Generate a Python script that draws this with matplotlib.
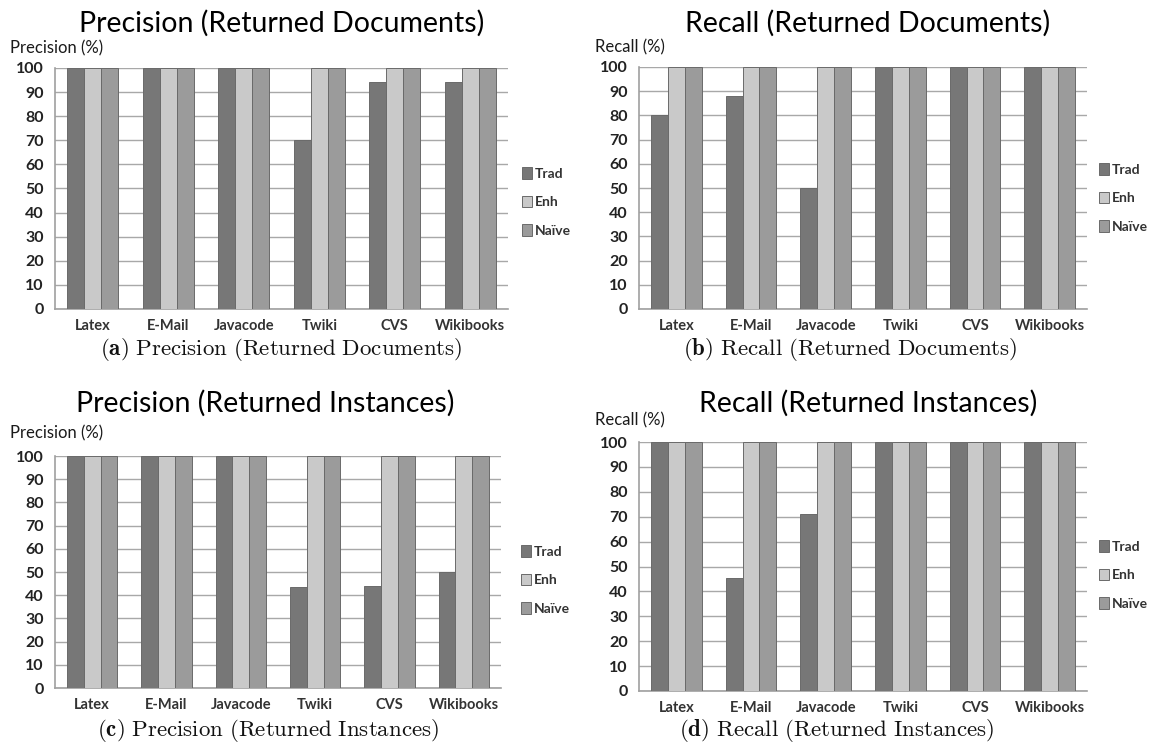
import numpy as np
import matplotlib
matplotlib.use('Agg')
import matplotlib.pyplot as plt
from matplotlib.patches import Patch

plt.rcParams['font.family'] = ['Lato', 'DejaVu Sans']
plt.rcParams['mathtext.fontset'] = 'cm'

categories = ['Latex', 'E-Mail', 'Javacode', 'Twiki', 'CVS', 'Wikibooks']
series_names = ['Trad', 'Enh', 'Naïve']

# values (%)
prec_docs_trad = [100, 100, 100, 70, 94, 94]
prec_docs_enh = [100, 100, 100, 100, 100, 100]
prec_docs_naive = [100, 100, 100, 100, 100, 100]

recall_docs_trad = [80, 88, 50, 100, 100, 100]
recall_docs_enh = [100, 100, 100, 100, 100, 100]
recall_docs_naive = [100, 100, 100, 100, 100, 100]

prec_inst_trad = [100, 100, 100, 43.5, 44, 50]
prec_inst_enh = [100, 100, 100, 100, 100, 100]
prec_inst_naive = [100, 100, 100, 100, 100, 100]

recall_inst_trad = [100, 45.5, 71, 100, 100, 100]
recall_inst_enh = [100, 100, 100, 100, 100, 100]
recall_inst_naive = [100, 100, 100, 100, 100, 100]

colors = ['#777777', '#c9c9c9', '#9b9b9b']
edge = '#6a6a6a'
W, H = 1151, 750


def px_rect(left, top, right, bottom):
    return [left / W, 1 - bottom / H, (right - left) / W, (bottom - top) / H]


def fx(x):
    return x / W


def fy(y):
    return 1 - y / H


def draw_panel(fig, rect, series, title, title_xy, ylabel, ylabel_xy,
               legend_xy, caption, caption_xy):
    ax = fig.add_axes(px_rect(*rect))
    x = np.arange(len(categories))
    width = 0.225
    for i, vals in enumerate(series):
        ax.bar(x + (i - 1) * width, vals, width, color=colors[i],
               edgecolor=edge, linewidth=0.7, zorder=3)
    ax.set_xlim(-0.5, len(categories) - 0.5)
    ax.set_ylim(0, 100)
    ax.set_yticks(np.arange(0, 101, 10))
    ax.set_xticks(x)
    ax.set_xticklabels(categories, fontsize=10.5, fontweight='bold', color='#333333')
    ax.tick_params(axis='y', labelsize=11.5, length=0, pad=8)
    for lab in ax.get_yticklabels():
        lab.set_fontweight('bold')
        lab.set_color('#222222')
    ax.tick_params(axis='x', length=0, pad=7)
    ax.grid(axis='y', color='#a8a8a8', linewidth=1.0, zorder=0)
    ax.set_axisbelow(True)
    for s in ['top', 'right']:
        ax.spines[s].set_visible(False)
    ax.spines['left'].set_color('#a0a0a0')
    ax.spines['bottom'].set_color('#a0a0a0')
    ax.spines['left'].set_linewidth(1.2)
    ax.spines['bottom'].set_linewidth(1.2)

    fig.text(fx(title_xy[0]), fy(title_xy[1]), title, fontsize=20.5,
             ha='center', va='center', color='#000000')
    fig.text(fx(ylabel_xy[0]), fy(ylabel_xy[1]), ylabel, fontsize=12,
             ha='left', va='center', color='#1a1a1a')
    handles = [Patch(facecolor=colors[i], edgecolor=edge, linewidth=0.7)
               for i in range(3)]
    leg = ax.legend(handles, series_names, loc='center left',
                    bbox_to_anchor=(fx(legend_xy[0]), fy(legend_xy[1])),
                    bbox_transform=fig.transFigure, frameon=False,
                    fontsize=10, handlelength=0.7, handleheight=0.9,
                    handletextpad=0.25, labelspacing=1.15, borderpad=0,
                    borderaxespad=0)
    for t in leg.get_texts():
        t.set_fontweight('bold')
        t.set_color('#333333')
    fig.text(fx(caption_xy[0]), fy(caption_xy[1]), caption, fontsize=16.5,
             ha='center', va='center', color='#111111')
    return ax


fig = plt.figure(figsize=(W / 100, H / 100), dpi=100)

draw_panel(fig, (55, 68, 508, 309),
           [prec_docs_trad, prec_docs_enh, prec_docs_naive],
           'Precision (Returned Documents)', (282, 23),
           'Precision (%)', (10, 48), (522, 202),
           r'$\mathbf{(a)}\ \mathrm{Precision\ (Returned\ Documents)}$', (281, 349))

draw_panel(fig, (639, 67, 1087, 309),
           [recall_docs_trad, recall_docs_enh, recall_docs_naive],
           'Recall (Returned Documents)', (868, 23),
           'Recall (%)', (595, 47), (1099, 198),
           r'$\mathbf{(b)}\ \mathrm{Recall\ (Returned\ Documents)}$', (850, 349))

draw_panel(fig, (55, 456, 501, 688),
           [prec_inst_trad, prec_inst_enh, prec_inst_naive],
           'Precision (Returned Instances)', (265, 403),
           'Precision (%)', (10, 433), (521, 580),
           r'$\mathbf{(c)}\ \mathrm{Precision\ (Returned\ Instances)}$', (268, 730))

draw_panel(fig, (639, 442, 1087, 691),
           [recall_inst_trad, recall_inst_enh, recall_inst_naive],
           'Recall (Returned Instances)', (868, 403),
           'Recall (%)', (595, 420), (1099, 575),
           r'$\mathbf{(d)}\ \mathrm{Recall\ (Returned\ Instances)}$', (837, 730))

fig.savefig('out.png', dpi=100)
